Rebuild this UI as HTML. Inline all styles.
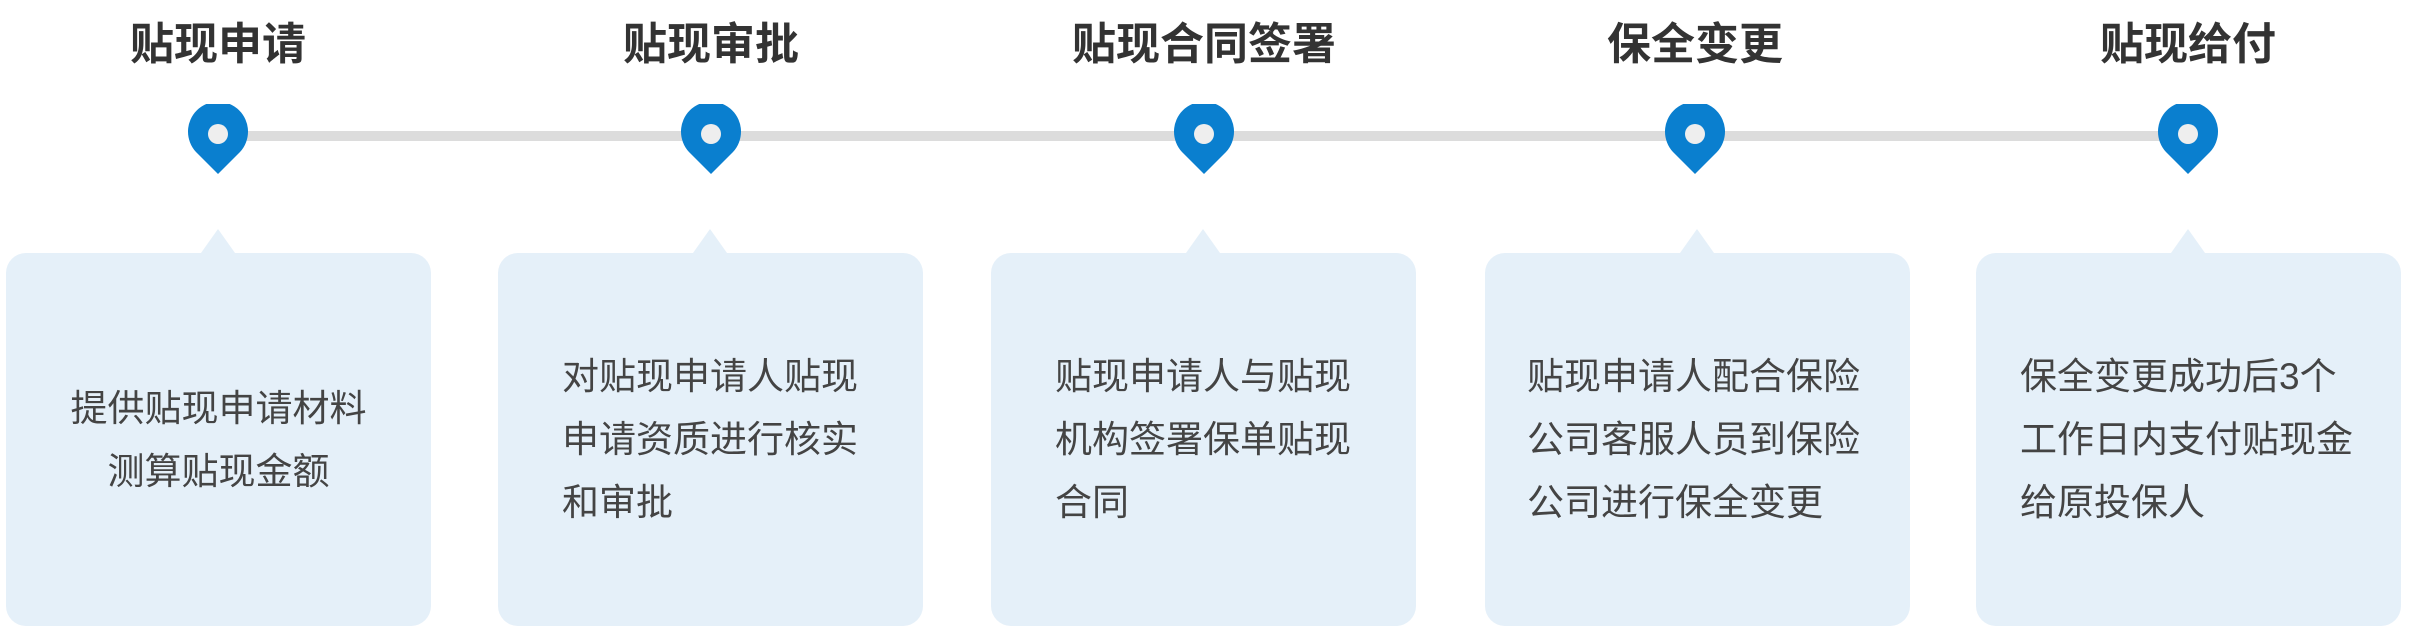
<!DOCTYPE html>
<html><head><meta charset="utf-8"><style>
body{margin:0;width:2422px;height:638px;background:#fff;position:relative;overflow:hidden;font-family:"Liberation Sans","Noto Sans CJK SC",sans-serif;}
.t{position:absolute;top:16px;width:400px;margin-left:-200px;text-align:center;font-size:44px;font-weight:bold;color:#333;line-height:58px;}
.line{position:absolute;left:218px;width:1970px;top:131px;height:10px;background:#dcdcdc;}
.pin{position:absolute;top:104px;width:60px;height:70px;margin-left:-30px;}
.box{position:absolute;top:253px;height:373px;width:425px;background:#e5f0f9;border-radius:20px;display:flex;align-items:center;box-sizing:border-box;font-size:37px;color:#444;line-height:63px;}
.box:before{content:"";position:absolute;left:195px;top:-24px;border-left:17px solid transparent;border-right:17px solid transparent;border-bottom:24px solid #e5f0f9;}
.l{padding-left:64px;text-align:left;}
.c{justify-content:center;text-align:center;}
</style></head><body>
<div class="line"></div>
<div class="t" style="left:218px">贴现申请</div>
<div class="t" style="left:711px">贴现审批</div>
<div class="t" style="left:1204px">贴现合同签署</div>
<div class="t" style="left:1695px">保全变更</div>
<div class="t" style="left:2188px">贴现给付</div>
<svg class="pin" style="left:218px" viewBox="0 0 60 70"><path d="M30 70 L8 48 A30 30 0 1 1 52 48 Z" fill="#0a7fcf"/><circle cx="30" cy="30" r="10" fill="#eee"/></svg>
<svg class="pin" style="left:711px" viewBox="0 0 60 70"><path d="M30 70 L8 48 A30 30 0 1 1 52 48 Z" fill="#0a7fcf"/><circle cx="30" cy="30" r="10" fill="#eee"/></svg>
<svg class="pin" style="left:1204px" viewBox="0 0 60 70"><path d="M30 70 L8 48 A30 30 0 1 1 52 48 Z" fill="#0a7fcf"/><circle cx="30" cy="30" r="10" fill="#eee"/></svg>
<svg class="pin" style="left:1695px" viewBox="0 0 60 70"><path d="M30 70 L8 48 A30 30 0 1 1 52 48 Z" fill="#0a7fcf"/><circle cx="30" cy="30" r="10" fill="#eee"/></svg>
<svg class="pin" style="left:2188px" viewBox="0 0 60 70"><path d="M30 70 L8 48 A30 30 0 1 1 52 48 Z" fill="#0a7fcf"/><circle cx="30" cy="30" r="10" fill="#eee"/></svg>
<div class="box c" style="left:6px"><div>提供贴现申请材料<br>测算贴现金额</div></div>
<div class="box l" style="left:498px"><div>对贴现申请人贴现<br>申请资质进行核实<br>和审批</div></div>
<div class="box l" style="left:991px"><div>贴现申请人与贴现<br>机构签署保单贴现<br>合同</div></div>
<div class="box l" style="left:1485px;padding-left:42px"><div>贴现申请人配合保险<br>公司客服人员到保险<br>公司进行保全变更</div></div>
<div class="box l" style="left:1976px;padding-left:44px"><div>保全变更成功后3个<br>工作日内支付贴现金<br>给原投保人</div></div>
</body></html>
